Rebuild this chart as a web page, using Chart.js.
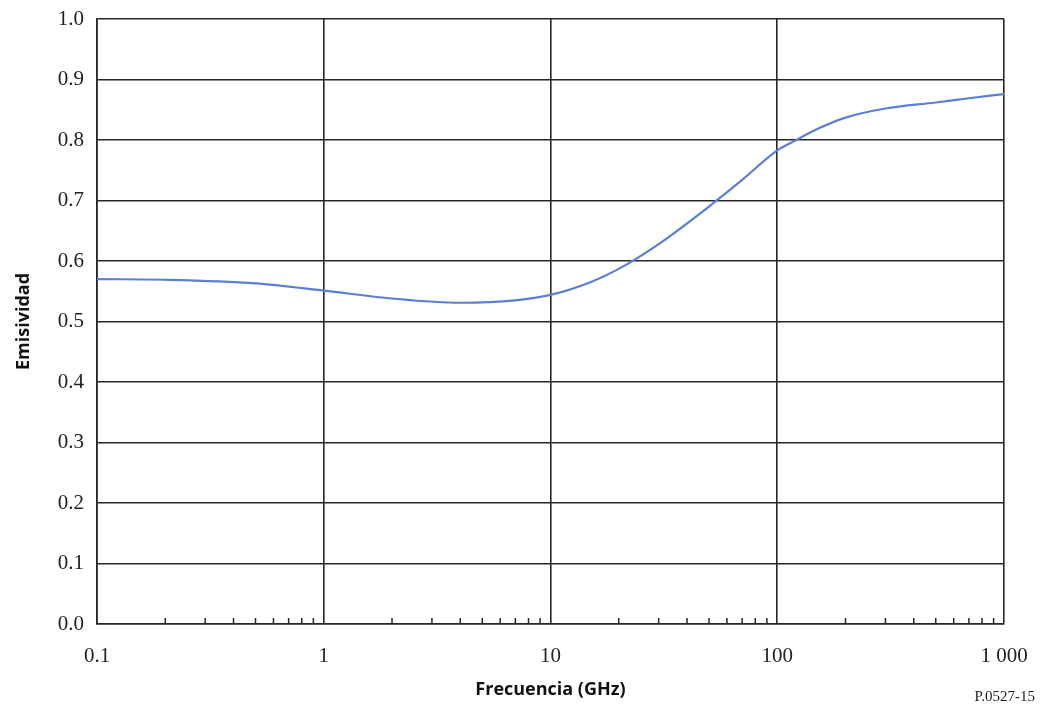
<!DOCTYPE html>
<html>
<head>
<meta charset="utf-8">
<script src="https://cdn.jsdelivr.net/npm/chart.js@4"></script>
<style>
  html, body { margin: 0; padding: 0; background: #fff; }
  #wrap { width: 1041px; height: 711px; }
</style>
</head>
<body>
<div id="wrap"><canvas id="emisChart" width="1041" height="711"></canvas></div>
<script>
// frequency (GHz) and emissivity
const freqGHz = [0.1, 0.2, 0.5, 1, 2, 4, 7, 10, 15, 20, 30, 50, 70, 100, 120, 150, 200, 300, 500, 700, 1000];
const emissivity = [0.570, 0.569, 0.563, 0.551, 0.538, 0.531, 0.535, 0.544, 0.565, 0.587, 0.628, 0.690, 0.734, 0.783, 0.799, 0.818, 0.837, 0.852, 0.862, 0.869, 0.876];
const xTickLabels = { 0.1: '0.1', 1: '1', 10: '10', 100: '100', 1000: '1 000' };
const yTicks = [0, 0.1, 0.2, 0.3, 0.4, 0.5, 0.6, 0.7, 0.8, 0.9, 1.0];

const lineColor = '#5b7fd3';
const gridColor = '#262626';

function isDecade(v) {
    const l = Math.log10(v);
    return Math.abs(l - Math.round(l)) < 1e-9;
}

// small upward ticks at 2..9 of each decade, plus the figure code
const extras = {
    id: 'extras',
    afterDatasetsDraw(chart) {
        const { ctx, chartArea, scales } = chart;
        const x = scales.x;
        ctx.save();
        ctx.strokeStyle = gridColor;
        ctx.lineWidth = 1.5;
        x.ticks.forEach(t => {
            if (isDecade(t.value)) return;
            const px = x.getPixelForValue(t.value);
            ctx.beginPath();
            ctx.moveTo(px, chartArea.bottom);
            ctx.lineTo(px, chartArea.bottom - 6);
            ctx.stroke();
        });
        ctx.fillStyle = '#222';
        ctx.font = '15px "Liberation Serif"';
        ctx.textAlign = 'right';
        ctx.textBaseline = 'middle';
        ctx.fillText('P.0527-15', 1035, 697);
        ctx.restore();
    }
};

const ctx = document.getElementById('emisChart').getContext('2d');
new Chart(ctx, {
    type: 'line',
    data: {
        datasets: [{
            data: freqGHz.map((f, i) => ({ x: f, y: emissivity[i] })),
            borderColor: lineColor,
            borderWidth: 2.2,
            pointRadius: 0,
            fill: false,
            cubicInterpolationMode: 'monotone'
        }]
    },
    options: {
        responsive: false,
        animation: false,
        layout: { padding: { top: 19, right: 37, left: 0, bottom: 0 } },
        plugins: {
            legend: { display: false },
            tooltip: { enabled: false }
        },
        scales: {
            x: {
                type: 'logarithmic',
                min: 0.1,
                max: 1000,
                afterBuildTicks(scale) {
                    const ticks = [];
                    for (let e = -1; e < 3; e++) {
                        for (let m = 1; m < 10; m++) ticks.push({ value: m * Math.pow(10, e) });
                    }
                    ticks.push({ value: 1000 });
                    scale.ticks = ticks;
                },
                afterFit(scale) {
                    scale.height = 87;
                    scale.paddingLeft = 0;
                    scale.paddingRight = 0;
                },
                grid: {
                    color: c => (c.tick && isDecade(c.tick.value)) ? gridColor : 'rgba(0,0,0,0)',
                    lineWidth: 1.6,
                    drawTicks: false
                },
                border: { color: gridColor, width: 1.6 },
                ticks: {
                    autoSkip: false,
                    maxRotation: 0,
                    padding: 20,
                    color: '#222',
                    font: { family: '"Liberation Serif"', size: 21 },
                    callback: v => xTickLabels[v] !== undefined ? xTickLabels[v] : (isDecade(v) ? String(v) : '')
                },
                title: {
                    display: true,
                    text: 'Frecuencia (GHz)',
                    color: '#111',
                    font: { family: '"Open Sans"', size: 18, weight: 'bold' },
                    padding: { top: 0, bottom: 10 }
                }
            },
            y: {
                min: 0,
                max: 1,
                afterBuildTicks(scale) {
                    scale.ticks = yTicks.map(v => ({ value: v }));
                },
                afterFit(scale) {
                    scale.width = 97;
                    scale.paddingTop = 0;
                    scale.paddingBottom = 0;
                },
                grid: {
                    color: gridColor,
                    lineWidth: 1.6,
                    drawTicks: false
                },
                border: { color: gridColor, width: 1.6 },
                ticks: {
                    padding: 13,
                    color: '#222',
                    font: { family: '"Liberation Serif"', size: 21 },
                    callback: v => v.toFixed(1)
                },
                title: {
                    display: true,
                    text: 'Emisividad',
                    color: '#111',
                    font: { family: '"Open Sans"', size: 18, weight: 'bold' },
                    padding: { top: 13, bottom: 0 }
                }
            }
        }
    },
    plugins: [extras]
});
</script>
</body>
</html>
